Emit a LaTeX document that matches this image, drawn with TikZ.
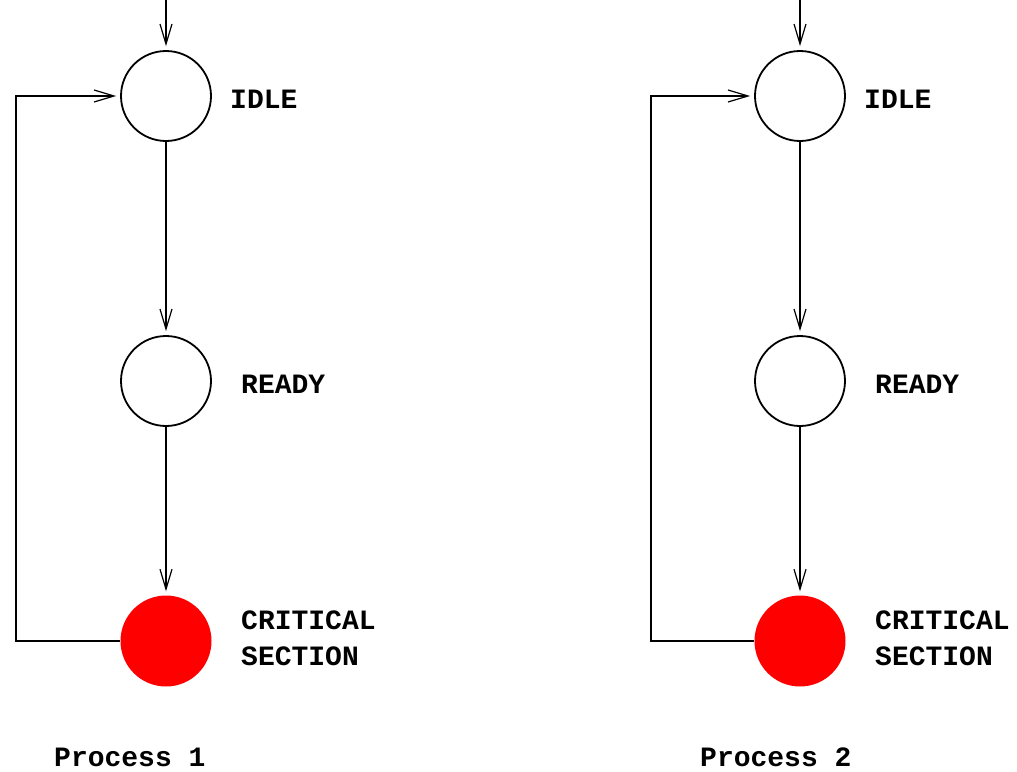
\documentclass[tikz,border=0pt]{standalone}
\usepackage{fontspec}
\setmonofont{Liberation Mono}
\usetikzlibrary{arrows.meta}

\tikzset{
  state/.style={circle, draw, line width=1.8pt, minimum size=90pt, inner sep=0pt},
  critical/.style={circle, fill=red, minimum size=91pt, inner sep=0pt},
  flow/.style={line width=1.6pt, -{Straight Barb[length=20pt,width=12pt,line width=1.2pt]}, shorten >=4pt},
  label/.style={anchor=base west, inner sep=0pt, font=\fontsize{28}{34}\selectfont\ttfamily\bfseries},
}

\begin{document}
\begin{tikzpicture}[x=1pt, y=-1pt]
    \useasboundingbox (0,0) rectangle (1017,771);

    % process 1
    \node [state] (idleA) at (166,96) {};
    \node [state] (readyA) at (166,381) {};
    \node [critical] (critA) at (166,641) {};
    \coordinate (startA) at (166,0);
    \coordinate (loopA) at (16,400);

    \draw [flow] (startA) -- (idleA.north);
    \draw [flow] (idleA.south) -- (readyA.north);
    \draw [flow] (readyA.south) -- (critA.north);
    \draw [flow] (critA.west) -| (loopA) |- (idleA.west);

    \node [label] (idleAtxt) at (230,108) {IDLE};
    \node [label] (readyAtxt) at (241,393) {READY};
    \node [label] (critAtxt) at (241,629) {CRITICAL};
    \node [label] (sectAtxt) at (241,665) {SECTION};
    \node [label] (procA) at (54,766) {Process 1};

    % process 2
    \node [state] (idleB) at (800,96) {};
    \node [state] (readyB) at (800,381) {};
    \node [critical] (critB) at (800,641) {};
    \coordinate (startB) at (800,0);
    \coordinate (loopB) at (651,400);

    \draw [flow] (startB) -- (idleB.north);
    \draw [flow] (idleB.south) -- (readyB.north);
    \draw [flow] (readyB.south) -- (critB.north);
    \draw [flow] (critB.west) -| (loopB) |- (idleB.west);

    \node [label] (idleBtxt) at (864,108) {IDLE};
    \node [label] (readyBtxt) at (875,393) {READY};
    \node [label] (critBtxt) at (875,629) {CRITICAL};
    \node [label] (sectBtxt) at (875,665) {SECTION};
    \node [label] (procB) at (700,766) {Process 2};
\end{tikzpicture}
\end{document}
